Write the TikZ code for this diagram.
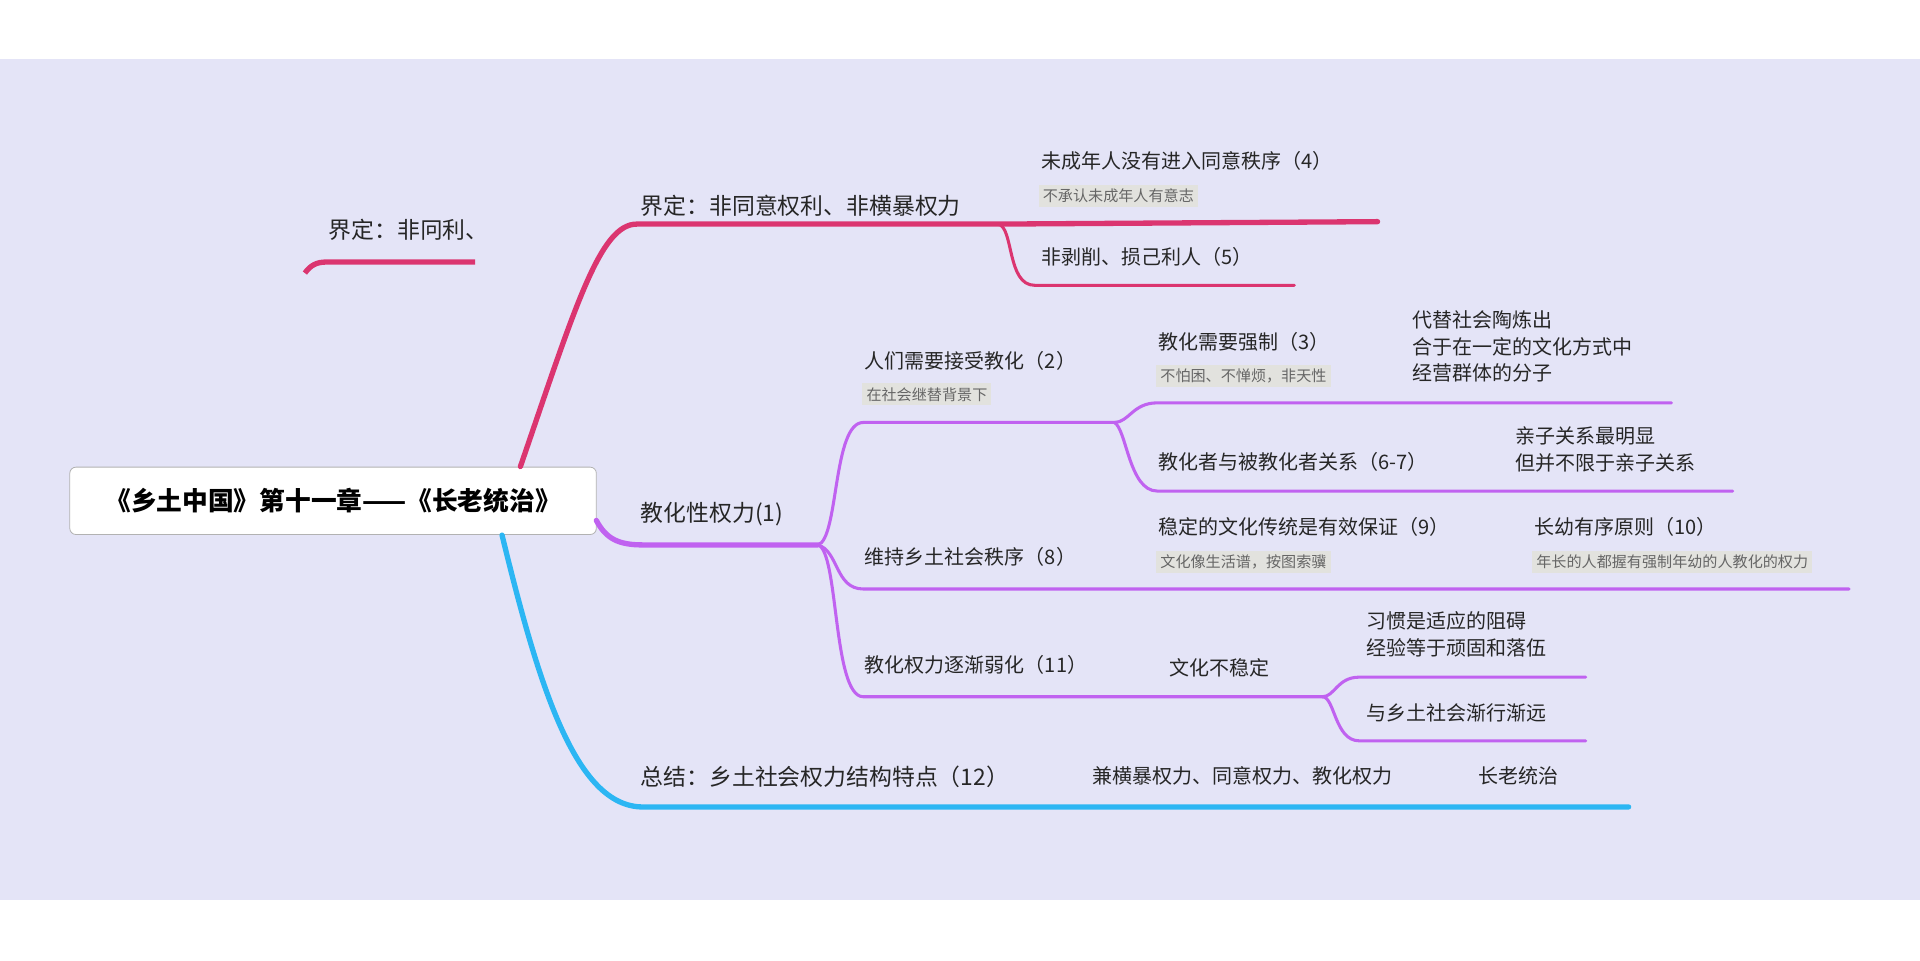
\documentclass[tikz,border=0pt]{standalone}
\usepackage{fontspec}
\setmainfont{Noto Sans CJK SC}
\usetikzlibrary{positioning}
\definecolor{bgLav}{HTML}{E4E4F7}
\definecolor{brRed}{HTML}{DB3570}
\definecolor{brPur}{HTML}{C062F0}
\definecolor{brBlue}{HTML}{2CB6F3}
\definecolor{noteBg}{HTML}{E2E2DE}
\tikzset{
  main/.style={anchor=west,inner sep=0pt,font=\fontsize{11.2}{13}\selectfont,text=black!85},
  sub/.style={anchor=west,inner sep=0pt,font=\fontsize{9.8}{11}\selectfont,text=black!85},
  multi/.style={sub,align=left,font=\fontsize{9.8}{13}\selectfont},
  note/.style={anchor=west,fill=noteBg,inner xsep=2pt,inner ysep=2pt,font=\fontsize{7.4}{8}\selectfont,text=black!60},
  thickbr/.style={line width=2.6pt,line cap=round},
  thinbr/.style={line width=1.5pt,line cap=round}
}
\begin{document}
\begin{tikzpicture}[x=0.6pt,y=-0.6pt]
  % canvas
  \useasboundingbox (0,0) rectangle (1568,784);
  \fill[white] (0,0) rectangle (1568,784);
  \fill[bgLav] (0,48) rectangle (1568,735);
  % root
  \node[draw=black!30,fill=white,rounded corners=3pt,minimum width=258pt,minimum height=33pt,
        font=\bfseries\fontsize{12.6}{14}\selectfont] (root) at (272,409) {《乡土中国》第十一章——《长老统治》};
  % stray fragment
  \node[main] (stray) at (268,188) {界定：非冋利、};
  \draw[brRed,thickbr,line cap=butt] (249,223) to[out=55,in=180] (266,214) -- (388,214);
  % red branch
  \node[main] (defn) at (523,168) {界定：非同意权利、非横暴权力};
  \node[sub] (minor) at (850,131) {未成年人没有进入同意秩序（4）};
  \node[note] (minorN) at (848,160) {不承认未成年人有意志};
  \node[sub] (noexp) at (850,210) {非剥削、损己利人（5）};
  \coordinate (r0) at (425,381);
  \coordinate (r1) at (520,183);
  \coordinate (r2) at (815,183);
  \draw[brRed,thickbr] (r0) .. controls (470,250) and (490,183) .. (r1) -- (r2) -- (1125,181);
  \draw[brRed,thinbr] (r2) .. controls (828,185) and (822,233) .. (845,233) -- (1057,233);
  % purple branch
  \node[main] (teach) at (523,420) {教化性权力(1)};
  \coordinate (p0) at (487,425);
  \coordinate (p1) at (668,445);
  \draw[brPur,thickbr] (p0) .. controls (495,440) and (505,445) .. (525,445) -- (p1);
  \node[sub] (need) at (706,295) {人们需要接受教化（2）};
  \node[note] (needN) at (704,322) {在社会继替背景下};
  \coordinate (q1) at (910,345);
  \draw[brPur,thinbr] (p1) .. controls (685,440) and (680,345) .. (705,345) -- (q1);
  \node[sub] (force) at (946,279) {教化需要强制（3）};
  \node[note] (forceN) at (944,307) {不怕困、不惮烦，非天性};
  \node[multi] (shape) at (1153,283) {代替社会陶炼出\\合于在一定的文化方式中\\经营群体的分子};
  \draw[brPur,thinbr] (q1) .. controls (922,345) and (925,329) .. (945,329) -- (1365,329);
  \node[sub] (relat) at (946,377) {教化者与被教化者关系（6-7）};
  \node[multi] (parent) at (1237,367) {亲子关系最明显\\但并不限于亲子关系};
  \draw[brPur,thinbr] (q1) .. controls (920,350) and (922,401) .. (945,401) -- (1415,401);
  \node[sub] (order) at (706,455) {维持乡土社会秩序（8）};
  \node[sub] (stable) at (946,430) {稳定的文化传统是有效保证（9）};
  \node[note] (stableN) at (944,459) {文化像生活谱，按图索骥};
  \node[sub] (elder) at (1253,430) {长幼有序原则（10）};
  \node[note] (elderN) at (1251,459) {年长的人都握有强制年幼的人教化的权力};
  \draw[brPur,thinbr] (p1) .. controls (685,450) and (682,481) .. (705,481) -- (1510,481);
  \node[sub] (weak) at (706,543) {教化权力逐渐弱化（11）};
  \node[sub] (unst) at (955,545) {文化不稳定};
  \coordinate (q2) at (1080,569);
  \draw[brPur,thinbr] (p1) .. controls (685,450) and (680,569) .. (705,569) -- (q2);
  \node[multi] (habit) at (1116,518) {习惯是适应的阻碍\\经验等于顽固和落伍};
  \node[sub] (far) at (1116,582) {与乡土社会渐行渐远};
  \draw[brPur,thinbr] (q2) .. controls (1090,569) and (1092,553) .. (1110,553) -- (1295,553);
  \draw[brPur,thinbr] (q2) .. controls (1090,569) and (1090,605) .. (1110,605) -- (1295,605);
  % blue branch
  \node[main] (sum) at (523,634) {总结：乡土社会权力结构特点（12）};
  \node[sub] (three) at (892,634) {兼横暴权力、同意权力、教化权力};
  \node[sub] (rule) at (1207,634) {长老统治};
  \draw[brBlue,thickbr] (410,437) .. controls (440,560) and (470,659) .. (525,659) -- (1330,659);
\end{tikzpicture}
\end{document}
